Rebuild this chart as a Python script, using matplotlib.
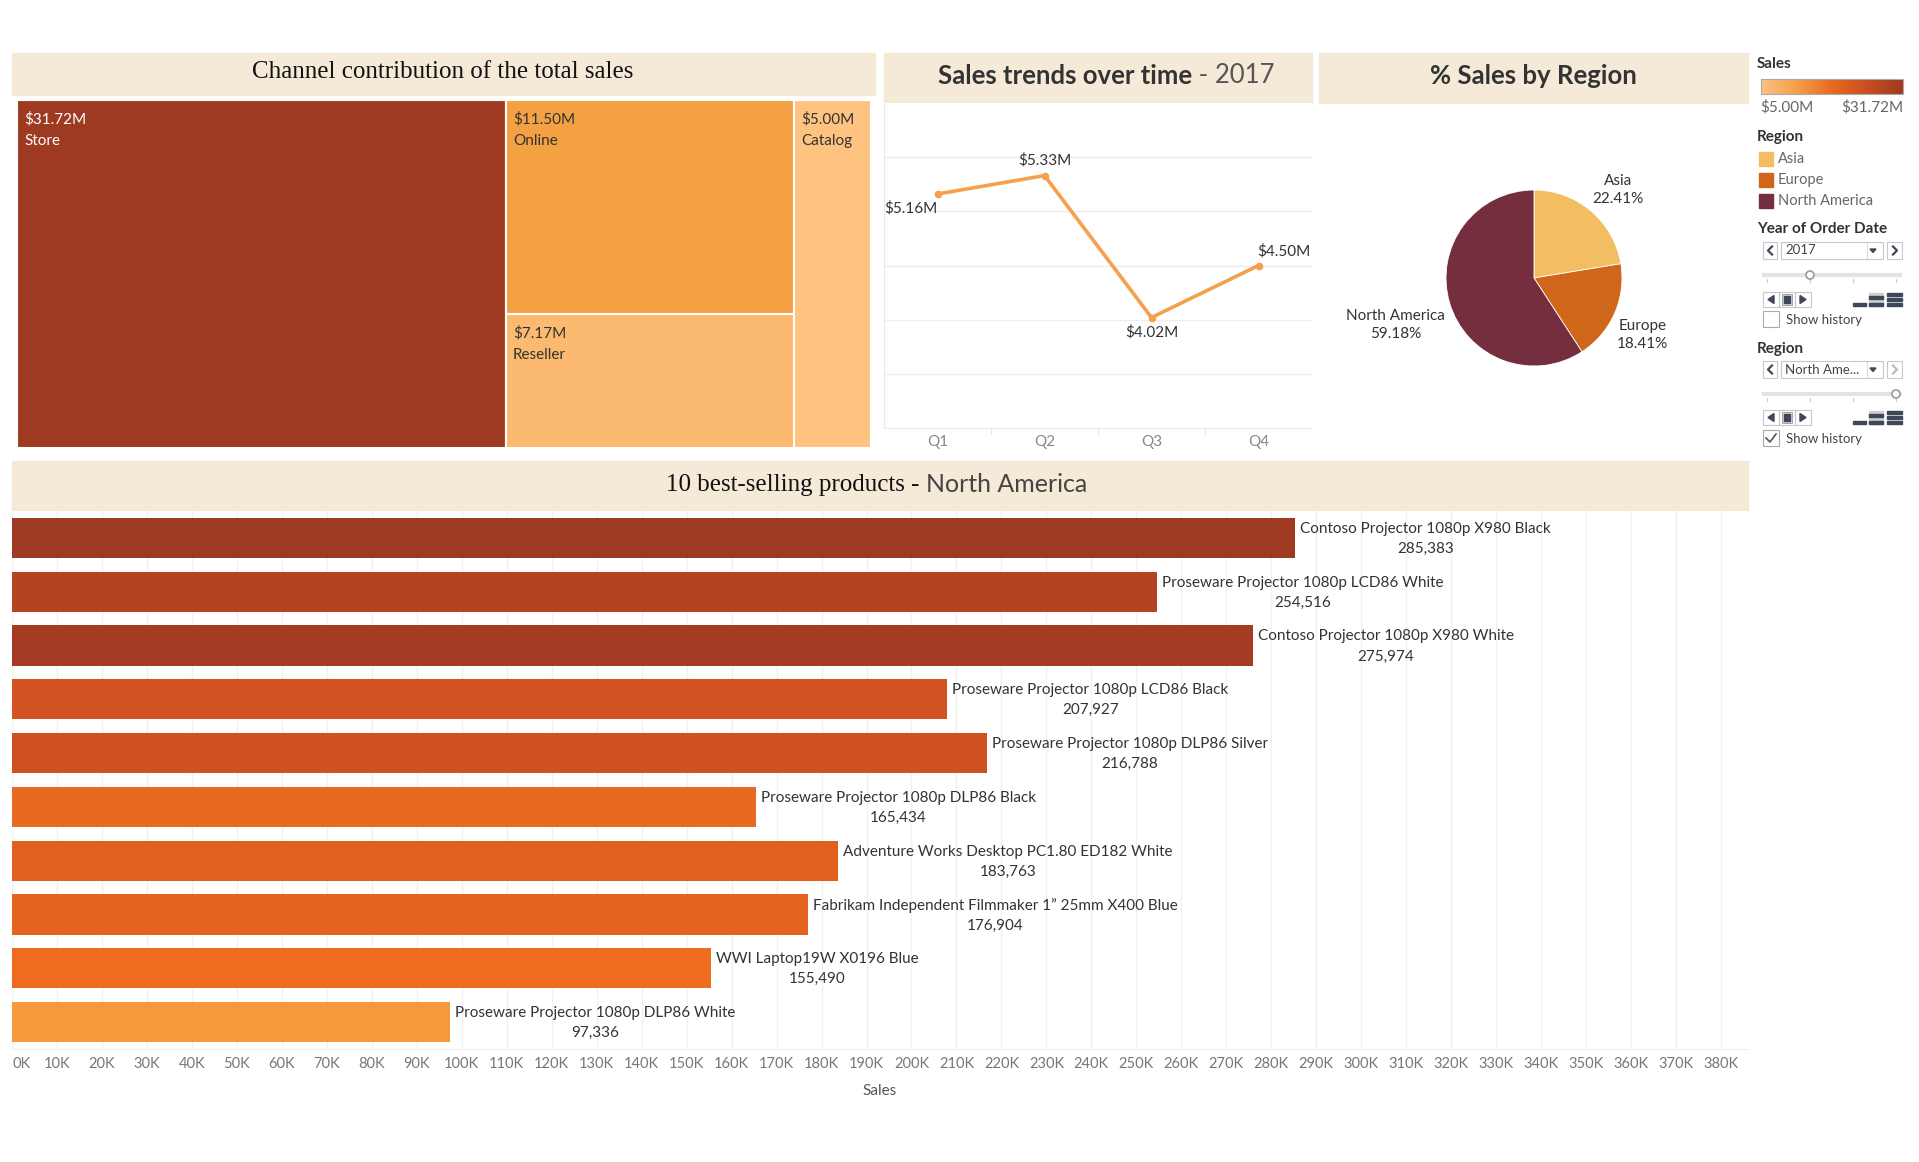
import numpy as np
import matplotlib
matplotlib.use("Agg")
import matplotlib.pyplot as plt
from matplotlib.patches import Rectangle, Circle, Polygon
from matplotlib.colors import LinearSegmentedColormap

plt.rcParams['font.family'] = ['Lato', 'DejaVu Sans']

W, H = 1919, 1162

# data
channels = ["Store", "Online", "Reseller", "Catalog"]
channel_sales = [31.72, 11.50, 7.17, 5.00]   # $M

quarters = ["Q1", "Q2", "Q3", "Q4"]
quarter_sales = [5.16, 5.33, 4.02, 4.50]     # $M, 2017

regions = ["Asia", "Europe", "North America"]
region_share = [22.41, 18.41, 59.18]         # %

products = [
    "Contoso Projector 1080p X980 Black",
    "Proseware Projector 1080p LCD86 White",
    "Contoso Projector 1080p X980 White",
    "Proseware Projector 1080p LCD86 Black",
    "Proseware Projector 1080p DLP86 Silver",
    "Proseware Projector 1080p DLP86 Black",
    "Adventure Works Desktop PC1.80 ED182 White",
    "Fabrikam Independent Filmmaker 1\u201d 25mm X400 Blue",
    "WWI Laptop19W X0196 Blue",
    "Proseware Projector 1080p DLP86 White",
]
product_sales = [285383, 254516, 275974, 207927, 216788,
                 165434, 183763, 176904, 155490, 97336]

# styles
BEIGE = '#F5E9D8'
TXT = '#333333'
GREY = '#666666'
channel_colors = ['#9E3A22', '#F3A143', '#FBBA6F', '#FEC381']
region_colors = ['#F3BE62', '#D0661A', '#742E3D']
bar_colors = ['#9E3A22', '#B34322', '#A53B23', '#D25222', '#CF5122',
              '#E86A21', '#E0601F', '#E4641F', '#EE6C1D', '#F5993C']
LINE = '#F5A04E'
sales_cmap = LinearSegmentedColormap.from_list(
    'sales', ['#FCC383', '#F4A04A', '#E86A21', '#C94E20', '#9E3A22'])


def px_axes(x0, y0, x1, y1):
    return fig.add_axes([x0 / W, 1 - y1 / H, (x1 - x0) / W, (y1 - y0) / H])


fig = plt.figure(figsize=(W / 100, H / 100), dpi=100)

# overlay for headers and the filter panel (pixel coordinates)
ui = fig.add_axes([0, 0, 1, 1])
ui.set_xlim(0, W)
ui.set_ylim(H, 0)
ui.axis('off')

ui.add_patch(Rectangle((12, 53), 863, 42, color=BEIGE))
ui.add_patch(Rectangle((884, 53), 428, 50, color=BEIGE))
ui.add_patch(Rectangle((1319, 53), 429, 50, color=BEIGE))
ui.add_patch(Rectangle((12, 461), 1736, 49, color=BEIGE))

ui.text(443, 72, "Channel contribution of the total sales", family='Liberation Serif',
        fontsize=18, color='#111111', ha='center', va='center')
t1 = ui.text(1192, 76, "Sales trends over time", fontsize=18.5, fontweight='bold',
             color=TXT, ha='right', va='center')
ui.annotate(" - 2017", xy=(1, 0), xycoords=t1, fontsize=18.5, color='#555555',
            ha='left', va='bottom')
ui.text(1533, 76, "% Sales by Region", fontsize=18.5, fontweight='bold',
        color=TXT, ha='center', va='center')
t2 = ui.text(926, 485, "10 best-selling products - ", family='Liberation Serif',
             fontsize=18, color='#111111', ha='right', va='center')
ui.annotate("North America", xy=(1, 0), xycoords=t2, fontsize=18, color='#444444',
            ha='left', va='bottom')

# ---- treemap
ax = px_axes(17, 100, 871, 448)
ax.set_xlim(0, 1)
ax.set_ylim(1, 0)
ax.axis('off')
total = sum(channel_sales)
w_store = channel_sales[0] / total
w_mid = (channel_sales[1] + channel_sales[2]) / total
h_online = channel_sales[1] / (channel_sales[1] + channel_sales[2])
rects = [(0, 0, w_store, 1),
         (w_store, 0, w_mid, h_online),
         (w_store, h_online, w_mid, 1 - h_online),
         (w_store + w_mid, 0, 1 - w_store - w_mid, 1)]
dx, dy = 7 / 854, 1 / 348
for (x, y, w, h), name, val, col in zip(rects, channels, channel_sales, channel_colors):
    ax.add_patch(Rectangle((x, y), w, h, facecolor=col, edgecolor='white', linewidth=1.5))
    tc = 'white' if name == "Store" else TXT
    ax.text(x + dx, y + 19 * dy, f"${val:.2f}M", color=tc, fontsize=11, va='center')
    ax.text(x + dx, y + 41 * dy, name, color=tc, fontsize=11, va='center')

# ---- line chart
ax = px_axes(884, 103, 1312, 428)
xs = np.arange(len(quarters))
ax.plot(xs, quarter_sales, color=LINE, lw=2.6, marker='o', ms=4.5, zorder=3)
ax.set_xlim(-0.5, 3.5)
ax.set_ylim(3, 6)
ax.set_yticks([3.5, 4, 4.5, 5, 5.5])
ax.yaxis.grid(True, color='#EEEEEE', lw=1)
ax.tick_params(axis='y', left=False, labelleft=False)
ax.set_xticks(xs)
ax.set_xticklabels(quarters, color='#888888', fontsize=11)
ax.set_xticks([0.5, 1.5, 2.5], minor=True)
ax.tick_params(axis='x', which='major', length=0, pad=5)
ax.tick_params(axis='x', which='minor', length=4, color='#DDDDDD')
for s in ['top', 'right']:
    ax.spines[s].set_visible(False)
for s in ['left', 'bottom']:
    ax.spines[s].set_color('#E8E8E8')
offsets = [(-27, -14), (0, 15), (0, -15), (25, 14)]
for x, v, off in zip(xs, quarter_sales, offsets):
    ax.annotate(f"${v:.2f}M", xy=(x, v), xytext=off, textcoords='offset pixels',
                ha='center', va='center', fontsize=11, color=TXT)

# ---- pie
ax = px_axes(1446, 190, 1622, 366)
ax.pie(region_share, colors=region_colors, startangle=90, counterclock=False,
       wedgeprops=dict(edgecolor='white', linewidth=0.6))
ax.set_xlim(-1, 1)
ax.set_ylim(-1, 1)
label_pos = [(0.95, 1.0), (1.23, -0.65), (-1.57, -0.53)]
for name, pct, (lx, ly) in zip(regions, region_share, label_pos):
    ax.text(lx, ly, f"{name}\n{pct:.2f}%", ha='center', va='center', fontsize=11,
            color=TXT, linespacing=1.35)

# ---- bar chart
ax = px_axes(12, 511, 1748, 1049)
ys = np.arange(len(products))
ax.barh(ys, product_sales, height=0.75, color=bar_colors, zorder=2)
ax.set_ylim(len(products) - 0.5, -0.5)
ax.set_xlim(0, 386000)
ticks = list(range(0, 390000, 10000))
ax.set_xticks(ticks)
ax.set_xticklabels([f"{t // 1000}K" for t in ticks], color='#777777', fontsize=10.5)
ax.get_xticklabels()[0].set_ha('left')
ax.tick_params(axis='x', length=0, pad=6)
ax.set_yticks([])
ax.xaxis.grid(True, color='#F0F0F0', lw=1)
ax.set_axisbelow(True)
for s in ['top', 'right', 'left']:
    ax.spines[s].set_visible(False)
ax.spines['bottom'].set_color('#EEEEEE')
ax.set_xlabel("Sales", fontsize=11, color='#555555', labelpad=9)
for y, name, v in zip(ys, products, product_sales):
    tn = ax.annotate(name, xy=(v, y), xytext=(5, 9), textcoords='offset pixels',
                     ha='left', va='center', fontsize=11, color=TXT)
    ax.annotate(f"{v:,}", xy=(0.5, 0), xycoords=tn, xytext=(0, -6),
                textcoords='offset pixels', ha='center', va='top', fontsize=11, color=TXT)

# ---- filter / legend panel
ICON = '#3E4858'
ui.text(1757, 64, "Sales", fontsize=11, color=TXT, va='center', fontweight='bold')
ui.imshow(np.linspace(0, 1, 256)[None, :], cmap=sales_cmap, aspect='auto',
          extent=(1761, 1903, 94, 79), zorder=2)
ui.add_patch(Rectangle((1761, 79), 142, 15, fill=False, edgecolor='#AAAAAA', lw=0.8, zorder=3))
ui.text(1760, 107, f"${min(channel_sales):.2f}M", fontsize=11, color=GREY, va='center')
ui.text(1903, 107, f"${max(channel_sales):.2f}M", fontsize=11, color=GREY, va='center', ha='right')

ui.text(1757, 137, "Region", fontsize=11, color=TXT, va='center', fontweight='bold')
for i, (name, col) in enumerate(zip(regions, region_colors)):
    yc = 159 + 21 * i
    ui.add_patch(Rectangle((1759, yc - 7), 14, 14, color=col))
    ui.text(1778, yc, name, fontsize=10.5, color=GREY, va='center')


def dropdown(y0, text, right_on=True):
    y1 = y0 + 17
    ym = (y0 + y1) / 2
    for (a, b) in [(1763, 1777), (1781, 1883), (1887, 1902)]:
        ui.add_patch(Rectangle((a, y0), b - a, y1 - y0, fill=False,
                               edgecolor='#C8C8C8', lw=0.8))
    ui.plot([1772, 1768, 1772], [ym - 4, ym, ym + 4], color=ICON, lw=1.6)
    rc = ICON if right_on else '#BBBBBB'
    ui.plot([1893, 1897, 1893], [ym - 4, ym, ym + 4], color=rc, lw=1.6)
    ui.text(1785, ym, text, fontsize=9.5, color='#444444', va='center')
    ui.add_patch(Polygon([(1870, ym - 1.5), (1876, ym - 1.5), (1873, ym + 2)], color=ICON))
    ui.plot([1867, 1867], [y0 + 1, y1 - 1], color='#DDDDDD', lw=0.8)


def slider(y, cx):
    ui.plot([1762, 1902], [y, y], color='#E3E3E3', lw=3, solid_capstyle='butt')
    for tx in [1767, 1810, 1853, 1896]:
        ui.plot([tx, tx], [y + 4, y + 7], color='#CCCCCC', lw=0.8)
    ui.add_patch(Circle((cx, y), 4, facecolor='white', edgecolor='#999999', lw=1.2, zorder=4))


def playback(y0):
    y1 = y0 + 15
    ym = (y0 + y1) / 2
    for (a, b) in [(1763, 1779), (1779, 1795), (1795, 1811)]:
        ui.add_patch(Rectangle((a, y0), b - a, y1 - y0, fill=False,
                               edgecolor='#C8C8C8', lw=0.8))
    ui.add_patch(Polygon([(1774, ym - 4), (1774, ym + 4), (1768, ym)], color=ICON))
    ui.add_patch(Rectangle((1782, y0 + 2), 10, 11, facecolor='#D8D8D8', edgecolor='#999999', lw=0.6))
    ui.add_patch(Rectangle((1784, y0 + 4), 6, 7, color=ICON))
    ui.add_patch(Polygon([(1800, ym - 4), (1800, ym + 4), (1806, ym)], color=ICON))
    ui.add_patch(Rectangle((1853, y1 - 4), 13, 3, color=ICON))
    ui.add_patch(Rectangle((1869, y0 + 1), 14, 13, color='#D0D0D0'))
    ui.add_patch(Rectangle((1869, y0 + 4), 14, 3, color=ICON))
    ui.add_patch(Rectangle((1869, y1 - 4), 14, 3, color=ICON))
    for k in range(3):
        ui.add_patch(Rectangle((1887, y0 + 1 + k * 5), 15, 3, color=ICON))


def checkbox(y0, text, checked):
    ui.add_patch(Rectangle((1763, y0), 16, 16, facecolor='white', edgecolor='#AAAAAA', lw=0.8))
    if checked:
        ui.plot([1766, 1770, 1776], [y0 + 8, y0 + 12, y0 + 4], color='#555555', lw=1.2)
    ui.text(1786, y0 + 9, text, fontsize=9.5, color='#444444', va='center')


ui.text(1757, 229, "Year of Order Date", fontsize=11, color=TXT, va='center', fontweight='bold')
dropdown(242, "2017")
slider(275, 1810)
playback(292)
checkbox(311, "Show history", False)

ui.text(1757, 349, "Region", fontsize=11, color=TXT, va='center', fontweight='bold')
dropdown(361, "North Ame...", right_on=False)
slider(394, 1896)
playback(410)
checkbox(430, "Show history", True)

ui.set_xlim(0, W)
ui.set_ylim(H, 0)

fig.savefig("out.png", dpi=100, facecolor='white')
